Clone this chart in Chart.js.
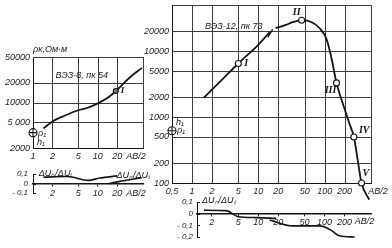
<!DOCTYPE html>
<html>
<head>
<meta charset="utf-8">
<script src="https://cdn.jsdelivr.net/npm/chart.js@4.4.1/dist/chart.umd.min.js"></script>
<style>
  body { margin: 0; background: #fff; width: 392px; height: 248px; position: relative; overflow: hidden; }
  canvas { position: absolute; }
</style>
</head>
<body>
<canvas id="c1" width="150" height="125" style="left:0;top:40px"></canvas>
<canvas id="c2" width="150" height="35" style="left:0;top:165px"></canvas>
<canvas id="c3" width="254" height="200" style="left:138px;top:0"></canvas>
<canvas id="c4" width="254" height="53" style="left:138px;top:195px"></canvas>
<script>
// ВЭЗ-8, пк 54
const vez8AB  = [1.45, 2, 3, 5, 7, 10, 15, 20, 30, 48];
const vez8Rho = [4000, 5100, 6200, 7600, 8300, 9700, 12300, 15700, 23400, 34000];
const vez8MarkAB = [19], vez8MarkRho = [15000];
const vez8Rho1 = 3440;
const vez8DuAB_a = [1.45, 3.4, 7.1, 10.7, 20];
const vez8Du_a   = [0.067, 0.073, 0.033, 0.057, 0.08];
const vez8DuAB_b = [15, 21, 48];
const vez8Du_b   = [0.0, 0.02, 0.06];

// ВЭЗ-12, пк 73
const vez12AB  = [1.5, 3, 5, 10, 14.9, 16.5, 18.2, 26, 33, 45, 64, 84, 107, 127, 151, 200, 236, 276, 315, 360, 470];
const vez12Rho = [1950, 3900, 6500, 12500, 19400, null, 22300, 25000, 27500, 29500, 27500, 22300, 15200, 7800, 3300, 1330, 800, 500, 224, 100, 56];
const vez12BreakAB = [13.9, 16.5], vez12BreakRho = [16300, 21500];
const vez12MarkAB  = [5, 45, 151, 276, 360];
const vez12MarkRho = [6500, 29500, 3300, 500, 100];
const vez12Rho1 = 620;
const vez12DuAB_a = [1.53, 3.3, 4.97, 9.4, 18.7];
const vez12Du_a   = [0.03, 0.026, -0.026, -0.034, -0.04];
const vez12DuAB_b = [14.9, 33, 84, 107, 131, 168, 283];
const vez12Du_b   = [-0.054, -0.105, -0.105, -0.12, -0.15, -0.19, -0.2];

// tick labels
const leftX = [1, 2, 5, 10, 20, 50], leftXLabels = ['1', '2', '5', '10', '20', ''];
const leftY = [2000, 5000, 10000, 20000, 50000], leftYLabels = ['2000', '5 000', '10000', '20000', '50000'];
const leftDuX = [2, 5, 10, 20], leftDuY = [-0.1, 0, 0.1], leftDuYLabels = ['- 0,1', '0', '0,1'];
const rightX = [0.5, 1, 2, 5, 10, 20, 50, 100, 200, 500];
const rightXLabels = ['0,5', '1', '2', '5', '10', '20', '50', '100', '200', ''];
const rightY = [100, 200, 500, 1000, 2000, 5000, 10000, 20000, 50000];
const rightYLabels = ['100', '200', '500', '1000', '2000', '5000', '10000', '20000', ''];
const rightDuX = [2, 5, 10, 20, 50, 100, 200], rightDuY = [-0.2, -0.1, 0, 0.1];
const rightDuYLabels = ['- 0,2', '- 0,1', '0', '0,1'];

const FONT = '"Liberation Sans Narrow","Liberation Sans",sans-serif';
const SERIF = '"Liberation Serif",serif';
Chart.defaults.font.family = FONT;
Chart.defaults.font.style = 'italic';
Chart.defaults.font.size = 9;
Chart.defaults.color = '#1a1a1a';
Chart.defaults.animation = false;
Chart.defaults.plugins.legend.display = false;
Chart.defaults.plugins.tooltip.enabled = false;

const pts = (xs, ys) => xs.map((v, i) => ({x: v, y: ys[i]}));
const ink = '#141414', gridInk = '#3c3c3c';

// grid, bracket ticks and hand-written labels
const notes = {
  id: 'notes',
  beforeDatasetsDraw(chart, args, opts) {
    if (!opts.grid) return;
    const {ctx, chartArea: a, scales: {x, y}} = chart;
    ctx.save();
    ctx.strokeStyle = gridInk; ctx.lineWidth = 1;
    ctx.beginPath();
    x.ticks.forEach(t => {
      if (t.value === x.min) return;
      const p = Math.round(x.getPixelForValue(t.value)) + 0.5;
      ctx.moveTo(p, a.top); ctx.lineTo(p, a.bottom);
    });
    y.ticks.forEach(t => {
      if (t.value === y.min) return;
      const p = Math.round(y.getPixelForValue(t.value)) + 0.5;
      ctx.moveTo(a.left, p); ctx.lineTo(a.right, p);
    });
    ctx.stroke();
    ctx.restore();
  },
  afterDatasetsDraw(chart, args, opts) {
    const {ctx, chartArea, scales: {x, y}} = chart;
    ctx.save();
    if (opts.bracket) {
      ctx.strokeStyle = ink; ctx.lineWidth = 1;
      y.ticks.forEach(t => {
        const py = Math.round(y.getPixelForValue(t.value)) + 0.5;
        ctx.beginPath(); ctx.moveTo(chartArea.left, py); ctx.lineTo(chartArea.left + 3, py); ctx.stroke();
      });
    }
    (opts.items || []).forEach(n => {
      ctx.font = n.font || `italic ${n.size || 9}px ${FONT}`;
      ctx.fillStyle = ink;
      ctx.textAlign = n.align || 'left';
      ctx.textBaseline = 'middle';
      ctx.fillText(n.t, x.getPixelForValue(n.x) + (n.dx || 0), y.getPixelForValue(n.y) + (n.dy || 0));
    });
    ctx.restore();
  }
};
Chart.register(notes);

function fixedTicks(vals) { return s => { s.ticks = vals.map(v => ({value: v})); }; }
function fitY(w) { return s => { s.width = w; s.paddingTop = 0; s.paddingBottom = 0; }; }
function fitX(h) { return s => { s.height = h; s.paddingLeft = 0; s.paddingRight = 0; }; }

function curve(data, w) {
  return {data, borderColor: ink, borderWidth: w || 1.8, pointRadius: 0, cubicInterpolationMode: 'monotone', fill: false, clip: false};
}
function marks(data, r, style, bg) {
  return {data, showLine: false, pointStyle: style || 'circle', pointRadius: r, borderColor: ink, borderWidth: 1.1, backgroundColor: bg || '#fff', clip: false};
}
const noGrid = {display: false, drawTicks: false};

// left main chart
new Chart(document.getElementById('c1'), {
  type: 'line',
  data: {datasets: [
    marks([{x: 1, y: vez8Rho1}], 4, 'cross'),
    marks([{x: 1, y: vez8Rho1}], 4),
    marks(pts(vez8MarkAB, vez8MarkRho), 2.5, 'circle', '#777'),
    curve(pts(vez8AB, vez8Rho))
  ]},
  options: {
    responsive: false,
    layout: {padding: {top: 17, right: 7}},
    scales: {
      x: {type: 'logarithmic', min: 1, max: 50, afterBuildTicks: fixedTicks(leftX), afterFit: fitX(17),
          grid: noGrid, border: {color: ink, width: 1},
          ticks: {autoSkip: false, maxRotation: 0, padding: 3, callback: (v, i) => leftXLabels[i]}},
      y: {type: 'logarithmic', min: 2000, max: 50000, afterBuildTicks: fixedTicks(leftY), afterFit: fitY(33),
          grid: noGrid, border: {color: ink, width: 1},
          ticks: {autoSkip: false, padding: 3, callback: (v, i) => leftYLabels[i]}}
    },
    plugins: {notes: {grid: true, items: [
      {t: 'ρк,Ом·м', x: 1, y: 50000, dy: -8},
      {t: 'ВЭЗ-8, пк 54', x: 2.23, y: 25700},
      {t: 'I', x: 19, y: 15000, dx: 5, font: `italic bold 9px ${SERIF}`},
      {t: 'ρ₁', x: 1, y: vez8Rho1, dx: 5, dy: 1},
      {t: 'h₁', x: 1, y: vez8Rho1, dx: 4, dy: 10},
      {t: 'AB/2', x: 39, y: 2000, dy: 8, align: 'center'}
    ]}}
  }
});

// left ΔU chart
new Chart(document.getElementById('c2'), {
  type: 'line',
  data: {datasets: [
    curve(pts(vez8DuAB_a, vez8Du_a), 1.6),
    curve(pts(vez8DuAB_b, vez8Du_b), 1.6)
  ]},
  options: {
    responsive: false,
    layout: {padding: {top: 9, right: 7, bottom: 7}},
    scales: {
      x: {type: 'logarithmic', min: 1, max: 50, position: {y: 0}, afterBuildTicks: fixedTicks(leftDuX), afterFit: fitX(0),
          grid: {drawOnChartArea: false, drawTicks: true, tickLength: 2, color: ink}, border: {color: ink, width: 1.4},
          ticks: {autoSkip: false, maxRotation: 0, padding: 3, callback: v => String(v)}},
      y: {min: -0.1, max: 0.1, afterBuildTicks: fixedTicks(leftDuY), afterFit: fitY(33),
          grid: noGrid, border: {color: ink, width: 1},
          ticks: {autoSkip: false, padding: 5, font: {size: 8}, callback: (v, i) => leftDuYLabels[i]}}
    },
    plugins: {notes: {bracket: true, items: [
      {t: 'ΔUₙ/ΔUₜ', x: 1.23, y: 0.1, dy: -1},
      {t: 'ΔUₙ/ΔUₜ', x: 19.4, y: 0.1, dy: 1},
      {t: 'AB/2', x: 39, y: 0, dy: 10, align: 'center'}
    ]}}
  }
});

// right main chart
new Chart(document.getElementById('c3'), {
  type: 'line',
  data: {datasets: [
    marks([{x: 0.5, y: vez12Rho1}], 4, 'cross'),
    marks([{x: 0.5, y: vez12Rho1}], 4),
    marks(pts(vez12MarkAB, vez12MarkRho), 3),
    curve(pts(vez12AB, vez12Rho)),
    curve(pts(vez12BreakAB, vez12BreakRho), 1.4)
  ]},
  options: {
    responsive: false,
    layout: {padding: {top: 4, right: 21}},
    scales: {
      x: {type: 'logarithmic', min: 0.5, max: 500, afterBuildTicks: fixedTicks(rightX), afterFit: fitX(17),
          grid: noGrid, border: {color: ink, width: 1},
          ticks: {autoSkip: false, maxRotation: 0, padding: 3, callback: (v, i) => rightXLabels[i]}},
      y: {type: 'logarithmic', min: 100, max: 50000, afterBuildTicks: fixedTicks(rightY), afterFit: fitY(34),
          grid: noGrid, border: {color: ink, width: 1},
          ticks: {autoSkip: false, padding: 3, callback: (v, i) => rightYLabels[i]}}
    },
    plugins: {notes: {grid: true, items: [
      {t: 'ВЭЗ-12, пк 73', x: 1.57, y: 24000},
      {t: 'I', x: 5, y: 6500, dx: 6, font: `italic bold 10px ${SERIF}`},
      {t: 'II', x: 45, y: 29500, dx: -5, dy: -8, align: 'center', font: `italic bold 10px ${SERIF}`},
      {t: 'III', x: 151, y: 3300, dx: -6, dy: 8, align: 'center', font: `italic bold 10px ${SERIF}`},
      {t: 'IV', x: 276, y: 500, dx: 5, dy: -7, font: `italic bold 10px ${SERIF}`},
      {t: 'V', x: 360, y: 100, dx: 1, dy: -10, font: `italic bold 10px ${SERIF}`},
      {t: 'h₁', x: 0.5, y: vez12Rho1, dx: 4, dy: -8},
      {t: 'ρ₁', x: 0.5, y: vez12Rho1, dx: 5, dy: 0},
      {t: 'AB/2', x: 500, y: 100, dx: 7, dy: 8, align: 'center'}
    ]}}
  }
});

// right ΔU chart
new Chart(document.getElementById('c4'), {
  type: 'line',
  data: {datasets: [
    curve(pts(vez12DuAB_a, vez12Du_a), 1.6),
    curve(pts(vez12DuAB_b, vez12Du_b), 1.6)
  ]},
  options: {
    responsive: false,
    layout: {padding: {top: 7, right: 21, bottom: 11}},
    scales: {
      x: {type: 'logarithmic', min: 1.2, max: 500, position: {y: 0}, afterBuildTicks: fixedTicks(rightDuX), afterFit: fitX(0),
          grid: {drawOnChartArea: false, drawTicks: true, tickLength: 2, color: ink}, border: {color: ink, width: 1.4},
          ticks: {autoSkip: false, maxRotation: 0, padding: 1, callback: v => String(v)}},
      y: {min: -0.2, max: 0.1, afterBuildTicks: fixedTicks(rightDuY), afterFit: fitY(59),
          grid: noGrid, border: {color: ink, width: 1},
          ticks: {autoSkip: false, padding: 4, font: {size: 8}, callback: (v, i) => rightDuYLabels[i]}}
    },
    plugins: {notes: {bracket: true, items: [
      {t: 'ΔUₙ/ΔUₜ', x: 1.2, y: 0.1, dx: 5, dy: -2},
      {t: 'AB/2', x: 400, y: 0, dy: 8, align: 'center'}
    ]}}
  }
});
</script>
</body>
</html>
